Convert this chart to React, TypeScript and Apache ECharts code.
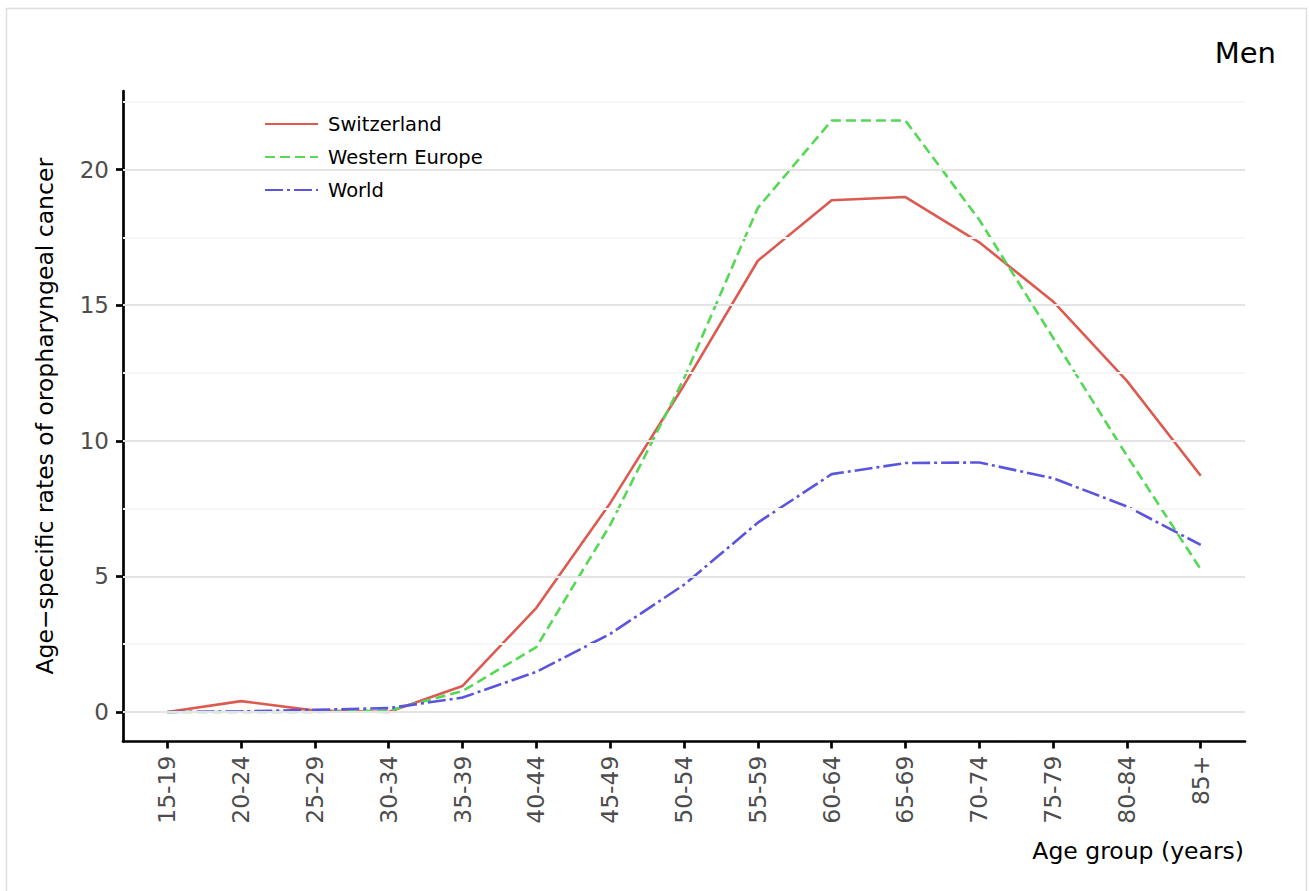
import React, { useEffect, useRef } from "react";
import * as echarts from "echarts";

const ageGroups = ["15-19", "20-24", "25-29", "30-34", "35-39", "40-44", "45-49", "50-54", "55-59", "60-64", "65-69", "70-74", "75-79", "80-84", "85+"];
const switzerland = [0, 0.4, 0.05, 0, 0.96, 3.84, 7.7, 12.05, 16.64, 18.87, 18.99, 17.32, 15.14, 12.21, 8.71];
const westernEurope = [0, 0, 0, 0.05, 0.77, 2.39, 6.9, 12.3, 18.59, 21.81, 21.81, 18.15, 13.8, 9.45, 5.26];
const world = [0, 0.02, 0.08, 0.14, 0.53, 1.48, 2.88, 4.69, 6.98, 8.77, 9.18, 9.2, 8.62, 7.58, 6.16];
const yTicks = [0, 5, 10, 15, 20];
const yMinorTicks = [2.5, 7.5, 12.5, 17.5, 22.5];

const FONT = "DejaVu Sans";

export default function App() {
  const ref = useRef<HTMLDivElement>(null);
  useEffect(() => {
    if (!ref.current) return;
    const chart = echarts.init(ref.current, undefined, { renderer: "svg" });
    const toPts = (arr: number[]) => arr.map((v, i) => [i, v]);
    const xIdx = ageGroups.map((_, i) => i);
    chart.setOption({
      animation: false,
      backgroundColor: "#ffffff",
      textStyle: { fontFamily: FONT },
      grid: { left: 123, right: 64, top: 91, bottom: 149.5, containLabel: false },
      legend: {
        orient: "vertical",
        left: 259,
        top: 109,
        itemWidth: 53,
        itemHeight: 14,
        itemGap: 13,
        itemStyle: { opacity: 0 },
        data: ["Switzerland", "Western Europe", "World"],
        textStyle: { fontFamily: FONT, fontSize: 19.5, color: "#000", padding: [0, 0, 0, 5] },
      },
      xAxis: {
        type: "value",
        min: -0.6,
        max: 14.6,
        splitLine: { show: false },
        axisLine: { show: true, onZero: false, lineStyle: { color: "#000", width: 2.7 } },
        axisTick: { show: true, length: 7, customValues: xIdx, lineStyle: { color: "#000", width: 2.7 } },
        axisLabel: {
          customValues: xIdx,
          rotate: 90,
          margin: 14,
          color: "#4d4d4d",
          fontSize: 23.5,
          fontFamily: FONT,
          formatter: (v: number) => ageGroups[Math.round(v)] ?? "",
        },
      },
      yAxis: {
        type: "value",
        min: -1.09,
        max: 22.9,
        name: "Age\u2212specific rates of oropharyngeal cancer",
        nameLocation: "middle",
        nameGap: 66,
        nameTextStyle: { fontSize: 23.5, color: "#000", fontFamily: FONT },
        splitLine: { show: false },
        axisLine: { show: true, onZero: false, lineStyle: { color: "#000", width: 2.7 } },
        axisTick: { show: true, length: 7, customValues: yTicks, lineStyle: { color: "#000", width: 2.7 } },
        axisLabel: { customValues: yTicks, margin: 14, color: "#4d4d4d", fontSize: 23, fontFamily: FONT },
      },
      graphic: [
        {
          type: "rect",
          silent: true,
          shape: { x: 6.5, y: 8.5, width: 1300, height: 900 },
          style: { fill: "none", stroke: "#dedede", lineWidth: 1.5 },
        },
        {
          type: "text",
          x: 1276,
          y: 53,
          style: { text: "Men", fontSize: 29, fontFamily: FONT, fill: "#000", textAlign: "right", textVerticalAlign: "middle" },
        },
        {
          type: "text",
          x: 1244,
          y: 851,
          style: { text: "Age group (years)", fontSize: 23.5, fontFamily: FONT, fill: "#000", textAlign: "right", textVerticalAlign: "middle" },
        },
      ],
      series: [
        {
          name: "grid",
          type: "line",
          data: [],
          silent: true,
          z: 1,
          markLine: {
            silent: true,
            symbol: ["none", "none"],
            label: { show: false },
            animation: false,
            data: [
              ...yMinorTicks.map((v) => ({ yAxis: v, lineStyle: { color: "#f6f6f6", width: 2, type: "solid" } })),
              ...yTicks.map((v) => ({ yAxis: v, lineStyle: { color: "#e4e4e4", width: 2, type: "solid" } })),
            ],
          },
        },
        {
          name: "Switzerland",
          type: "line",
          data: toPts(switzerland),
          symbol: "none",
          z: 3,
          color: "#dd5a50",
          lineStyle: { color: "#dd5a50", width: 2.6, type: "solid" },
        },
        {
          name: "Western Europe",
          type: "line",
          data: toPts(westernEurope),
          symbol: "none",
          z: 3,
          color: "#55d855",
          lineStyle: { color: "#55d855", width: 2.6, type: [10, 5] },
        },
        {
          name: "World",
          type: "line",
          data: toPts(world),
          symbol: "none",
          z: 3,
          color: "#5b55dd",
          lineStyle: { color: "#5b55dd", width: 2.6, type: [18, 4, 3, 4] },
        },
      ],
    });
    return () => chart.dispose();
  }, []);
  return <div ref={ref} style={{ position: "fixed", left: 0, top: 0, width: 1309, height: 891 }} />;
}
